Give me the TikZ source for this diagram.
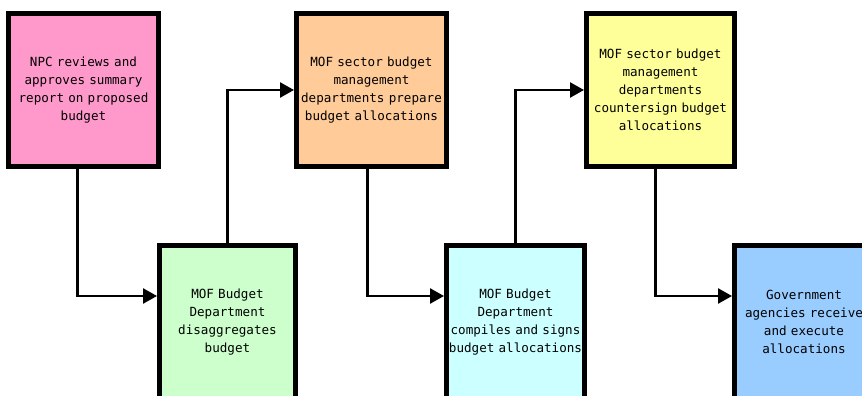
\documentclass[tikz,border=0pt]{standalone}
\usepackage{fontspec}
\setmonofont{DejaVu Sans Mono}
\usetikzlibrary{arrows.meta}
\definecolor{npcpink}{HTML}{FF99CC}
\definecolor{sectororange}{HTML}{FFCC99}
\definecolor{signyellow}{HTML}{FFFF99}
\definecolor{deptgreen}{HTML}{CCFFCC}
\definecolor{compilecyan}{HTML}{CCFFFF}
\definecolor{agencyblue}{HTML}{99CCFF}
\tikzset{
    every node/.style={rectangle, draw, line width=5pt, align=center,
    	text width=144pt, minimum height=153pt, inner xsep=0pt,
    	font=\ttfamily\fontsize{12.6}{18}\selectfont}
}
\tikzset{
    flow/.style={line width=2.5pt, -{Triangle[length=14pt,width=15pt]}}
}

\begin{document}
\begin{tikzpicture}[x=1pt, y=-1pt]
	\useasboundingbox (0,0) rectangle (862,396);
	\fill[white] (0,0) rectangle (862,396);
	\node [fill=npcpink, minimum width=150pt] (npc) at (83.5,90) {NPC reviews and\\approves summary\\report on proposed\\budget};
	\node [fill=sectororange, minimum width=150pt] (prepare) at (371.5,90) {MOF sector budget\\management\\departments prepare\\budget allocations};
	\node [fill=signyellow, minimum width=148pt] (countersign) at (660.5,90) {MOF sector budget\\management\\departments\\countersign budget\\allocations};
	\node [fill=deptgreen, minimum width=136pt, text width=134pt] (disagg) at (227.5,322) {MOF Budget\\Department\\disaggregates\\budget};
	\node [fill=compilecyan, minimum width=138pt, text width=136pt] (compile) at (515.5,322) {MOF Budget\\Department\\compiles and signs\\budget allocations};
	\node [fill=agencyblue, minimum width=139pt, text width=136pt] (agency) at (804,322) {Government\\agencies receive\\and execute\\allocations};
	\draw[flow] ([xshift=-6pt]npc.south) |- ([yshift=26pt]disagg.west);
	\draw[flow] (disagg.north) |- (prepare.west);
	\draw[flow] ([xshift=-4pt]prepare.south) |- ([yshift=26pt]compile.west);
	\draw[flow] (compile.north) |- (countersign.west);
	\draw[flow] ([xshift=-5pt]countersign.south) |- ([yshift=26pt]agency.west);
\end{tikzpicture}
\end{document}
